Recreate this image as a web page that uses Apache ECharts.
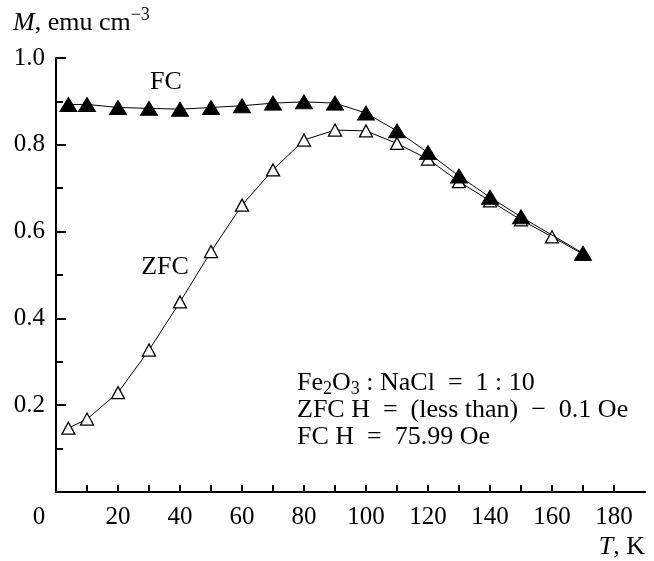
<!DOCTYPE html>
<html>
<head>
<meta charset="utf-8">
<script src="https://cdn.jsdelivr.net/npm/echarts@6/dist/echarts.min.js"></script>
<style>
html,body{margin:0;padding:0;background:#fff}
#main{width:654px;height:561px}
</style>
</head>
<body>
<div id="main"></div>
<script>
// ZFC curve, T in K, M in emu cm^-3
var zfcT = [4, 10, 20, 30, 40, 50, 60, 70, 80, 90, 100, 110, 120, 130, 140, 150, 160, 170];
var zfcM = [0.147, 0.168, 0.229, 0.327, 0.438, 0.554, 0.661, 0.742, 0.811, 0.834, 0.832, 0.803, 0.767, 0.715, 0.671, 0.627, 0.588, 0.548];
// FC curve (no point at 160 K)
var fcT = [4, 10, 20, 30, 40, 50, 60, 70, 80, 90, 100, 110, 120, 130, 140, 150, 170];
var fcM = [0.893, 0.893, 0.886, 0.884, 0.882, 0.886, 0.890, 0.896, 0.899, 0.896, 0.873, 0.832, 0.782, 0.728, 0.679, 0.634, 0.550];

var font = "'Liberation Serif', 'DejaVu Serif', serif";
var fs = 26;
var sp = '\u2002'; // wider space round = and −

function pairs(xs, ys) {
  var out = [];
  for (var i = 0; i < xs.length; i++) out.push([xs[i], ys[i]]);
  return out;
}

var chart = echarts.init(document.getElementById('main'));
var option = {
  backgroundColor: '#fff',
  animation: false,
  grid: { left: 56, right: 9, top: 58, bottom: 69 },
  xAxis: {
    type: 'value',
    min: 0,
    max: 190,
    interval: 10,
    splitLine: { show: false },
    axisLine: { lineStyle: { color: '#000', width: 2 } },
    axisTick: { inside: true, length: 7, lineStyle: { color: '#000', width: 2 } },
    axisLabel: {
      color: '#000', fontFamily: font, fontSize: 25, margin: 13,
      showMaxLabel: false,
      formatter: function (v) {
        if (v === 0) return '{z|0}';
        return v % 20 === 0 ? String(v) : '';
      },
      rich: { z: { fontFamily: font, fontSize: 25, color: '#000', padding: [0, 34, 0, 0] } }
    }
  },
  yAxis: {
    type: 'value',
    min: 0,
    max: 1.0,
    interval: 0.2,
    splitLine: { show: false },
    axisLine: { lineStyle: { color: '#000', width: 2 } },
    axisTick: { inside: true, length: 10, lineStyle: { color: '#000', width: 2 } },
    minorTick: { show: true, splitNumber: 2, length: 7, lineStyle: { color: '#000', width: 2 } },
    axisLabel: {
      color: '#000', fontFamily: font, fontSize: 25, margin: 11,
      formatter: function (v) { return v === 0 ? '' : v.toFixed(1); }
    }
  },
  series: [{
    name: 'ZFC',
    type: 'line',
    data: pairs(zfcT, zfcM),
    symbol: 'triangle',
    symbolSize: [13, 12],
    showAllSymbol: true,
    lineStyle: { color: '#000', width: 1 },
    itemStyle: { color: '#fff', borderColor: '#000', borderWidth: 1.3 },
    z: 2
  }, {
    name: 'FC',
    type: 'line',
    data: pairs(fcT, fcM),
    symbol: 'triangle',
    symbolSize: [17, 14],
    showAllSymbol: true,
    lineStyle: { color: '#000', width: 1 },
    itemStyle: { color: '#000', borderColor: '#000', borderWidth: 1 },
    z: 3
  }],
  graphic: [{
    type: 'text', left: 13, top: 6,
    style: {
      text: '{i|M}{n|, emu cm}{s|−3}',
      font: fs + 'px ' + font, fill: '#000',
      rich: {
        i: { fontFamily: font, fontSize: fs, fontStyle: 'italic', lineHeight: 30, verticalAlign: 'bottom' },
        n: { fontFamily: font, fontSize: fs, lineHeight: 30, verticalAlign: 'bottom' },
        s: { fontFamily: font, fontSize: 18, lineHeight: 16, verticalAlign: 'top' }
      }
    }
  }, {
    type: 'text', x: 166, y: 82,
    style: { text: 'FC', font: fs + 'px ' + font, fill: '#000', align: 'center', verticalAlign: 'middle' }
  }, {
    type: 'text', x: 165, y: 267,
    style: { text: 'ZFC', font: fs + 'px ' + font, fill: '#000', align: 'center', verticalAlign: 'middle' }
  }, {
    type: 'text', x: 297, y: 383,
    style: {
      text: '{n|Fe}{b|2}{n|O}{b|3}{n| : NaCl' + sp + '=' + sp + '1 : 10}',
      font: fs + 'px ' + font, fill: '#000', verticalAlign: 'middle',
      rich: {
        n: { fontFamily: font, fontSize: fs, lineHeight: 28 },
        b: { fontFamily: font, fontSize: 18, lineHeight: 28, padding: [12, 0, 0, 0] }
      }
    }
  }, {
    type: 'text', x: 297, y: 410,
    style: { text: 'ZFC H' + sp + '=' + sp + '(less than)' + sp + '−' + sp + '0.1 Oe', font: fs + 'px ' + font, fill: '#000', verticalAlign: 'middle' }
  }, {
    type: 'text', x: 297, y: 437,
    style: { text: 'FC H' + sp + '=' + sp + '75.99 Oe', font: fs + 'px ' + font, fill: '#000', verticalAlign: 'middle' }
  }, {
    type: 'text', x: 645, y: 547,
    style: {
      text: '{i|T}, K',
      font: fs + 'px ' + font, fill: '#000', align: 'right', verticalAlign: 'middle',
      rich: { i: { fontFamily: font, fontSize: fs, fontStyle: 'italic' } }
    }
  }]
};
chart.setOption(option);
</script>
</body>
</html>
